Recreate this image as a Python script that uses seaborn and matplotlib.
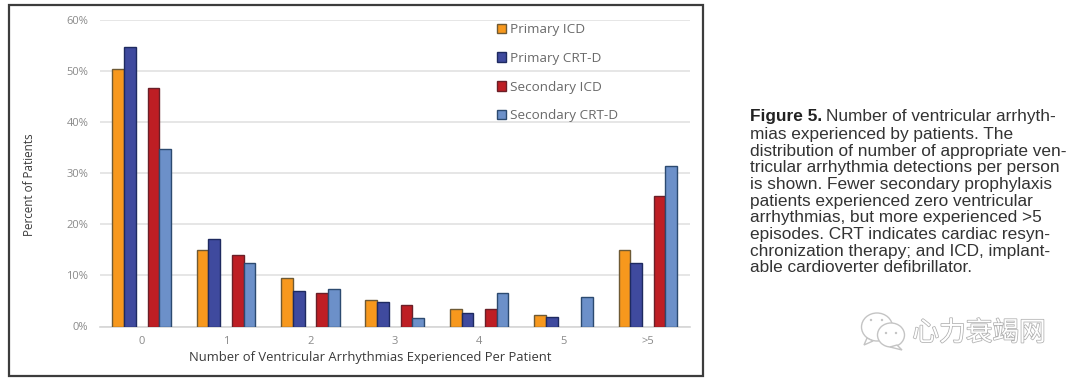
import pandas as pd
import numpy as np
import seaborn as sns
import matplotlib.pyplot as plt
import matplotlib.patheffects as pe
from matplotlib.colors import to_hex
from matplotlib.patches import Patch, Rectangle, Ellipse, Polygon, Circle

categories = ['0', '1', '2', '3', '4', '5', '>5']
primary_icd = [50.4, 15.0, 9.4, 5.1, 3.4, 2.3, 15.0]
primary_crt = [54.7, 17.2, 7.0, 4.8, 2.6, 1.8, 12.5]
secondary_icd = [46.7, 14.0, 6.6, 4.2, 3.4, np.nan, 25.5]
secondary_crt = [34.7, 12.4, 7.4, 1.7, 6.6, 5.8, 31.4]

series_names = ['Primary ICD', 'Primary CRT-D', 'Secondary ICD', 'Secondary CRT-D']
fill_colors = ['#f7981d', '#3f4a9e', '#be1e24', '#6c90c9']
edge_colors = ['#6E5A35', '#1E2A60', '#6A1F28', '#2C4A70']

caption_first = 'Number of ventricular arrhyth-'
caption_rest = '''mias experienced by patients. The
distribution of number of appropriate ven-
tricular arrhythmia detections per person
is shown. Fewer secondary prophylaxis
patients experienced zero ventricular
arrhythmias, but more experienced >5
episodes. CRT indicates cardiac resyn-
chronization therapy; and ICD, implant-
able cardioverter defibrillator.'''

df = pd.DataFrame({'count': categories, 'Primary ICD': primary_icd, 'Primary CRT-D': primary_crt,
                   'Secondary ICD': secondary_icd, 'Secondary CRT-D': secondary_crt})
df = df.melt(id_vars='count', var_name='group', value_name='pct')

W, H = 1080, 381
sns.set_theme(style='white')
plt.rcParams['font.family'] = ['Open Sans', 'DejaVu Sans']

fig = plt.figure(figsize=(W / 100, H / 100), dpi=100, facecolor='white')
ax = fig.add_axes([99.5 / W, 1 - 326.5 / H, 590.5 / W, 306.5 / H])

# the blank level leaves the empty slot between primary and secondary bars
order = ['Primary ICD', 'Primary CRT-D', ' ', 'Secondary ICD', 'Secondary CRT-D']
palette = dict(zip(series_names, fill_colors))
palette[' '] = 'white'
sns.barplot(data=df, x='count', y='pct', hue='group', order=categories, hue_order=order,
            palette=palette, width=0.694, gap=0, saturation=1, legend=False, ax=ax, zorder=3)

edges = dict(zip(fill_colors, edge_colors))
for bar in ax.patches:
    bar.set_linewidth(1.0)
    bar.set_edgecolor(edges.get(to_hex(bar.get_facecolor()), 'white'))

ax.set_ylim(0, 60)
ax.set_xlim(-0.5, 6.5)
ax.set_yticks(range(0, 61, 10))
ax.set_yticklabels([f'{v}%' for v in range(0, 61, 10)])
ax.yaxis.grid(True, color='#E2E2E2', lw=1.2, zorder=0)
ax.set_axisbelow(True)
sns.despine(ax=ax, left=True, top=True, right=True)
ax.spines['bottom'].set_color('#D6D6D6')
ax.spines['bottom'].set_linewidth(1.2)
ax.tick_params(axis='both', length=0, labelsize=8, labelcolor='#8A8A8A')
ax.tick_params(axis='x', pad=7)
ax.tick_params(axis='y', pad=8)
ax.set_xlabel('')
ax.set_ylabel('')

fig.text(370 / W, 1 - 358 / H, 'Number of Ventricular Arrhythmias Experienced Per Patient',
         ha='center', va='center', fontsize=9.4, color='#3A3A3A')
fig.text(29.5 / W, 1 - 185 / H, 'Percent of Patients', rotation=90, ha='center', va='center',
         fontsize=8.4, color='#3A3A3A')

# legend sits over the gridlines, no frame
handles = [Patch(facecolor=f, edgecolor=e, lw=1) for f, e in zip(fill_colors, edge_colors)]
leg = fig.legend(handles, series_names, loc='upper left', bbox_to_anchor=(497 / W, 1 - 23 / H),
                 frameon=False, fontsize=9.7, labelcolor='#6A6A6A', handlelength=0.7, handleheight=0.7,
                 handletextpad=0.3, labelspacing=1.175, borderpad=0, borderaxespad=0)

# outer frame round the chart
fig.add_artist(Rectangle((9 / W, 1 - 376 / H), 694 / W, 371 / H, transform=fig.transFigure,
                         fill=False, edgecolor='#3C3C3C', lw=1.6))

caption_font = ['Liberation Sans', 'DejaVu Sans']
fig.text(750 / W, 1 - 117 / H, 'Figure 5.', family=caption_font, weight='bold', fontsize=12.4,
         color='#222222', va='center')
fig.text(826 / W, 1 - 117 / H, caption_first, family=caption_font, fontsize=12.4, color='#333333', va='center')
fig.text(750 / W, 1 - 127 / H, caption_rest, family=caption_font, fontsize=12.4, color='#333333',
         va='top', linespacing=1.14)

# watermark: two chat bubbles and the account name
overlay = fig.add_axes([0, 0, 1, 1], facecolor='none')
overlay.set_xlim(0, W)
overlay.set_ylim(H, 0)
overlay.axis('off')
wm = '#C4C4C4'
overlay.add_patch(Ellipse((877, 327), 31, 28, fc='white', ec=wm, lw=1))
overlay.add_patch(Polygon([[867, 338], [864, 345], [873, 341]], fc='white', ec=wm, lw=1))
overlay.add_patch(Ellipse((891, 335), 27, 24, fc='white', ec=wm, lw=1))
overlay.add_patch(Polygon([[897, 345], [902, 350], [890, 347]], fc='white', ec=wm, lw=1))
for cx, cy in [(871, 320), (882, 320), (886, 333), (896, 333)]:
    overlay.add_patch(Circle((cx, cy), 1.2, fc=wm, ec='none'))
overlay.text(979, 333, '心力衰竭网', family=['Noto Sans CJK SC', 'DejaVu Sans'], fontsize=19.2,
             ha='center', va='center', color='white',
             path_effects=[pe.withStroke(linewidth=1.1, foreground='#B0B0B0')])

fig.savefig('out.png', dpi=100, facecolor='white')
